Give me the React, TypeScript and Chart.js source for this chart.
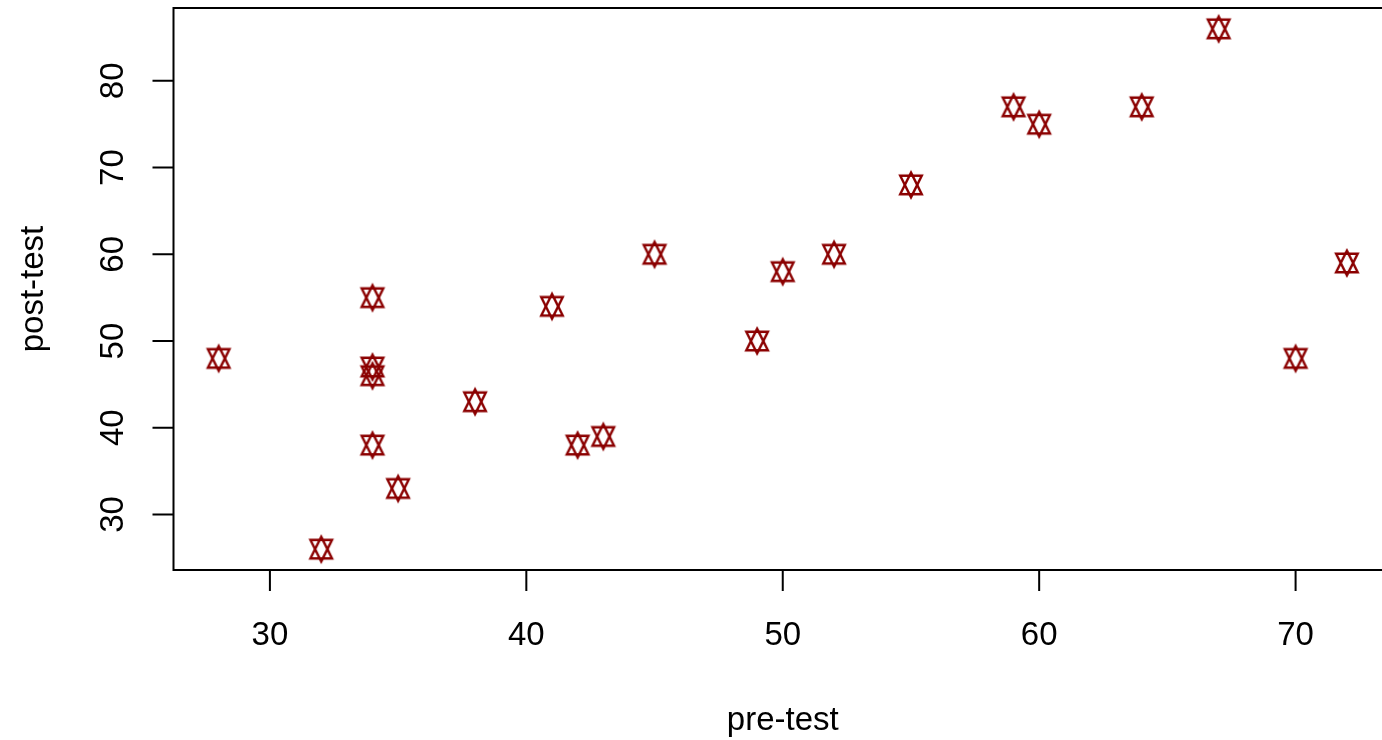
import React, { useEffect, useRef } from "react";
import { Chart, registerables } from "chart.js";

Chart.register(...registerables);

const preTest: number[] = [28, 32, 34, 34, 34, 34, 35, 38, 41, 42, 43, 45, 49, 50, 52, 55, 59, 60, 64, 67, 70, 72];
const postTest: number[] = [48, 26, 55, 47, 46, 38, 33, 43, 54, 38, 39, 60, 50, 58, 60, 68, 77, 75, 77, 86, 48, 59];
const xTicks: number[] = [30, 40, 50, 60, 70];
const yTicks: number[] = [30, 40, 50, 60, 70, 80];
const xTitle = "pre-test";
const yTitle = "post-test";

const MARK_COLOR = "#8B0000";
const FONT = "33px 'Liberation Sans', Arial, sans-serif";

function makeStar(): HTMLCanvasElement {
  const c = document.createElement("canvas");
  c.width = 30;
  c.height = 32;
  const ctx = c.getContext("2d")!;
  const cx = 15;
  const cy = 16;
  const hw = 10.8;
  const apex = 12.4;
  const base = 9.2;
  ctx.strokeStyle = MARK_COLOR;
  ctx.lineWidth = 2.4;
  ctx.lineJoin = "miter";
  ctx.beginPath();
  ctx.moveTo(cx, cy - apex);
  ctx.lineTo(cx + hw, cy + base);
  ctx.lineTo(cx - hw, cy + base);
  ctx.closePath();
  ctx.stroke();
  ctx.beginPath();
  ctx.moveTo(cx, cy + apex);
  ctx.lineTo(cx + hw, cy - base);
  ctx.lineTo(cx - hw, cy - base);
  ctx.closePath();
  ctx.stroke();
  return c;
}

const axesPlugin = {
  id: "rAxes",
  afterDraw(chart: any) {
    const ctx = chart.ctx as CanvasRenderingContext2D;
    const { left, right, top, bottom } = chart.chartArea;
    const xs = chart.scales.x;
    const ys = chart.scales.y;
    ctx.save();
    ctx.strokeStyle = "#000";
    ctx.fillStyle = "#000";
    ctx.lineWidth = 2;
    ctx.strokeRect(left, top, right - left, bottom - top);
    ctx.font = FONT;
    // x axis
    ctx.beginPath();
    for (const t of xTicks) {
      const px = xs.getPixelForValue(t);
      ctx.moveTo(px, bottom);
      ctx.lineTo(px, bottom + 21);
    }
    ctx.stroke();
    ctx.textAlign = "center";
    ctx.textBaseline = "alphabetic";
    for (const t of xTicks) {
      const px = xs.getPixelForValue(t);
      ctx.fillText(String(t), px, bottom + 75);
    }
    ctx.fillText(xTitle, (left + right) / 2, 730);
    // y axis
    ctx.beginPath();
    for (const t of yTicks) {
      const py = ys.getPixelForValue(t);
      ctx.moveTo(left, py);
      ctx.lineTo(left - 21, py);
    }
    ctx.stroke();
    for (const t of yTicks) {
      const py = ys.getPixelForValue(t);
      ctx.save();
      ctx.translate(123, py);
      ctx.rotate(-Math.PI / 2);
      ctx.fillText(String(t), 0, 0);
      ctx.restore();
    }
    ctx.save();
    ctx.translate(43, (top + bottom) / 2);
    ctx.rotate(-Math.PI / 2);
    ctx.fillText(yTitle, 0, 0);
    ctx.restore();
    ctx.restore();
  },
};

export default function App() {
  const ref = useRef<HTMLCanvasElement | null>(null);
  useEffect(() => {
    document.body.style.margin = "0";
    const star = makeStar();
    const chart = new Chart(ref.current!, {
      type: "scatter",
      data: {
        datasets: [
          {
            data: preTest.map((x, i) => ({ x, y: postTest[i] })),
            pointStyle: star as any,
            pointRadius: 1,
            pointBorderWidth: 0,
            borderColor: MARK_COLOR,
            backgroundColor: MARK_COLOR,
          },
        ],
      },
      options: {
        animation: false,
        responsive: true,
        maintainAspectRatio: false,
        layout: { padding: { left: 173.5, top: 8, right: 8, bottom: 170 } },
        plugins: { legend: { display: false }, tooltip: { enabled: false } },
        scales: {
          x: { type: "linear", display: false, min: 26.24, max: 73.76 },
          y: { type: "linear", display: false, min: 23.6, max: 88.4 },
        },
      },
      plugins: [axesPlugin],
    });
    return () => chart.destroy();
  }, []);
  return (
    <div style={{ position: "fixed", left: 0, top: 0, width: 1382, height: 740, overflow: "hidden", background: "#fff" }}>
      <div style={{ position: "absolute", left: 0, top: 0, width: 1400, height: 740 }}>
        <canvas ref={ref} />
      </div>
    </div>
  );
}
